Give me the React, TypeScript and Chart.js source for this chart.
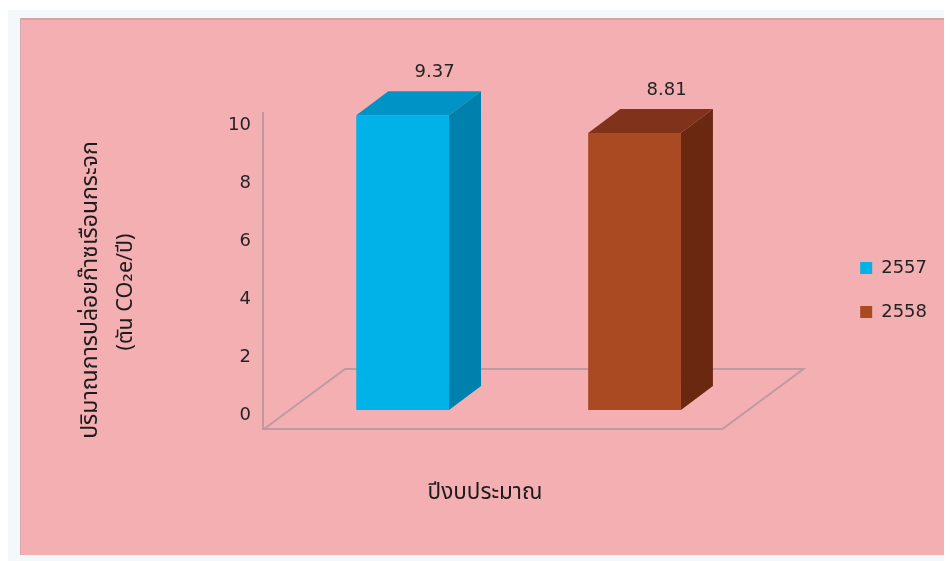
import React, { useEffect, useRef } from "react";
import { Chart, registerables } from "chart.js";

Chart.register(...registerables);

// ---- data ----
const categories = ["2557", "2558"];
const values = [9.37, 8.81];
const yTicks = [0, 2, 4, 6, 8, 10];
const frontColors = ["#00B2E8", "#A94A23"];
const sideColors = ["#0080AC", "#6A2810"];
const topColors = ["#0093C6", "#80321A"];
const yTitleLines = ["ปริมาณการปล่อยก๊าซเรือนกระจก", "(ตัน CO₂e/ปี)"];
const xTitle = "ปีงบประมาณ";

const FONT = "'DejaVu Sans', 'Noto Sans', sans-serif";
const THAI_FONT = "'Noto Sans Thai', Tahoma, Garuda, Loma, 'DejaVu Sans', sans-serif";
const TEXT = "#242424";
const DEPTH_X = 32;
const DEPTH_Y = -24;

const threeD = {
  id: "threeD",
  beforeDatasetsDraw(chart: any) {
    const ctx = chart.ctx;
    const area = chart.chartArea;
    const meta = chart.getDatasetMeta(0);
    const base = meta.data[0].getProps(["base"], true).base;
    const axisX = area.left - 23.7;
    ctx.save();
    ctx.strokeStyle = "#B09094";
    ctx.lineWidth = 1.5;
    ctx.beginPath();
    ctx.moveTo(axisX, area.top - 13);
    ctx.lineTo(axisX, base + 19);
    ctx.stroke();
    const fy = base + 19;
    const by = base - 41;
    const fl = axisX + 1;
    const fr = area.right - 28;
    const dx = 81;
    ctx.strokeStyle = "#BC9CA0";
    ctx.lineWidth = 2;
    ctx.beginPath();
    ctx.moveTo(fl, fy);
    ctx.lineTo(fr, fy);
    ctx.lineTo(fr + dx, by);
    ctx.lineTo(fl + dx, by);
    ctx.closePath();
    ctx.stroke();
    ctx.restore();
  },
  afterDatasetsDraw(chart: any) {
    const ctx = chart.ctx;
    const meta = chart.getDatasetMeta(0);
    ctx.save();
    meta.data.forEach((el: any, i: number) => {
      const { x, y, base, width } = el.getProps(["x", "y", "base", "width"], true);
      const l = x - width / 2;
      const r = x + width / 2;
      // top face
      ctx.fillStyle = topColors[i];
      ctx.beginPath();
      ctx.moveTo(l, y);
      ctx.lineTo(l + DEPTH_X, y + DEPTH_Y);
      ctx.lineTo(r + DEPTH_X, y + DEPTH_Y);
      ctx.lineTo(r, y);
      ctx.closePath();
      ctx.fill();
      // side face
      ctx.fillStyle = sideColors[i];
      ctx.beginPath();
      ctx.moveTo(r, y);
      ctx.lineTo(r + DEPTH_X, y + DEPTH_Y);
      ctx.lineTo(r + DEPTH_X, base + DEPTH_Y);
      ctx.lineTo(r, base);
      ctx.closePath();
      ctx.fill();
      // value label
      ctx.fillStyle = TEXT;
      ctx.font = `18px ${FONT}`;
      ctx.textAlign = "center";
      ctx.textBaseline = "middle";
      ctx.fillText(values[i].toFixed(2), x + DEPTH_X, y + DEPTH_Y - 19);
    });
    ctx.restore();
  },
  afterDraw(chart: any) {
    const ctx = chart.ctx;
    ctx.save();
    ctx.fillStyle = "#1C1C1C";
    ctx.textAlign = "center";
    ctx.textBaseline = "middle";
    const pos = [
      [84, 282, 23],
      [120, 284, 21.5],
    ];
    yTitleLines.forEach((t, i) => {
      ctx.save();
      ctx.font = `${pos[i][2]}px ${THAI_FONT}`;
      ctx.translate(pos[i][0], pos[i][1]);
      ctx.rotate(-Math.PI / 2);
      ctx.fillText(t, 0, 0);
      ctx.restore();
    });
    ctx.font = `22.5px ${THAI_FONT}`;
    ctx.fillText(xTitle, 477, 486);
    ctx.restore();
  },
};

export default function App() {
  const ref = useRef<HTMLCanvasElement>(null);

  useEffect(() => {
    if (!ref.current) return;
    const chart = new Chart(ref.current, {
      type: "bar",
      data: {
        labels: categories,
        datasets: [
          {
            label: "CO2e",
            data: values,
            backgroundColor: frontColors,
            borderWidth: 0,
            yAxisID: "y2",
            xAxisID: "x",
            barPercentage: 0.4,
            categoryPercentage: 1,
            clip: false,
          },
        ],
      },
      options: {
        animation: false,
        responsive: false,
        layout: { padding: { top: 117, left: 0, right: 15, bottom: 106 } },
        plugins: {
          tooltip: { enabled: false },
          legend: {
            position: "right",
            fullSize: true,
            onClick: () => {},
            labels: {
              boxWidth: 12,
              boxHeight: 12,
              padding: 26,
              color: TEXT,
              font: { family: FONT, size: 18 },
              generateLabels: () =>
                categories.map((c, i) => ({
                  text: c,
                  fillStyle: frontColors[i],
                  strokeStyle: frontColors[i],
                  lineWidth: 0,
                  hidden: false,
                  index: i,
                  datasetIndex: 0,
                  fontColor: TEXT,
                })),
            },
          },
        },
        scales: {
          x: {
            type: "category",
            grid: { display: false, drawTicks: false },
            border: { display: false },
            ticks: { padding: 39.2, color: TEXT, font: { family: FONT, size: 18 } },
            afterFit: (s: any) => {
              s.height = 40;
            },
          },
          y: {
            position: "left",
            min: yTicks[0],
            max: yTicks[yTicks.length - 1],
            grid: { display: false, drawTicks: false },
            border: { display: false },
            ticks: {
              stepSize: yTicks[1] - yTicks[0],
              padding: 35.7,
              color: TEXT,
              font: { family: FONT, size: 18 },
            },
            afterFit: (s: any) => {
              s.width = 278.7;
            },
          },
          y2: {
            position: "right",
            min: -0.159,
            max: 9.062,
            grid: { display: false, drawTicks: false },
            border: { display: false },
            ticks: { display: false },
            afterFit: (s: any) => {
              s.width = 83.7;
            },
          },
        },
      },
      plugins: [threeD],
    } as any);
    return () => chart.destroy();
  }, []);

  return (
    <div style={{ position: "relative", width: 944, height: 553 }}>
      <div
        style={{
          position: "absolute",
          left: -1,
          top: 2,
          right: 0,
          bottom: 0,
          background: "#F4F8F8",
        }}
      />
      <div
        style={{
          position: "absolute",
          left: 12,
          top: 10,
          right: 0,
          bottom: 6,
          background: "#F4AFB2",
          borderTop: "2px solid #D4A4A8",
          borderLeft: "1px solid #D8AAAE",
          boxSizing: "border-box",
        }}
      />
      <canvas
        ref={ref}
        width={944}
        height={553}
        style={{ position: "absolute", left: 0, top: 0, width: 944, height: 553 }}
      />
    </div>
  );
}
